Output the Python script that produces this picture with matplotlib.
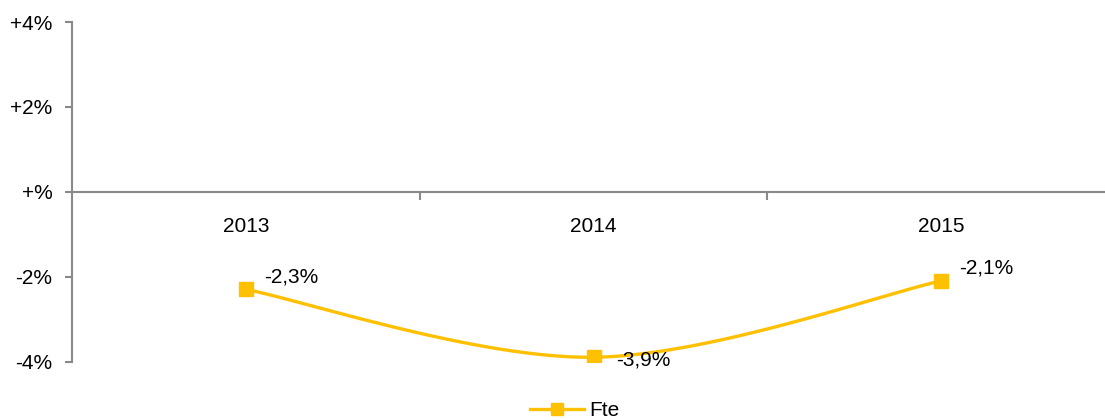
import matplotlib
matplotlib.use("Agg")
import matplotlib.pyplot as plt
import numpy as np

plt.rcParams['font.family'] = ['Liberation Sans', 'DejaVu Sans']

years = ['2013', '2014', '2015']
fte = [-2.3, -3.9, -2.1]
point_labels = ['-2,3%', '-3,9%', '-2,1%']
y_ticks = [4, 2, 0, -2, -4]
y_ticklabels = ['+4%', '+2%', '+%', '-2%', '-4%']

gold = '#FFC000'
grey = '#898989'
fs = 15

fig = plt.figure(figsize=(11.05, 4.2), dpi=100)
ax = fig.add_axes([72 / 1105, 1 - 361.5 / 420, 1043 / 1105, 339.5 / 420])

# smoothed line (catmull-rom through the points, like excel's smoothing)
x = np.arange(len(fte), dtype=float)
y = np.array(fte, dtype=float)
px = np.concatenate([[x[0]], x, [x[-1]]])
py = np.concatenate([[y[0]], y, [y[-1]]])
xs, ys = [], []
t = np.linspace(0, 1, 60)
for i in range(1, len(px) - 2):
    for p, out in ((px, xs), (py, ys)):
        p0, p1, p2, p3 = p[i - 1], p[i], p[i + 1], p[i + 2]
        m1 = (p2 - p0) / 2
        m2 = (p3 - p1) / 2
        h00 = 2 * t**3 - 3 * t**2 + 1
        h10 = t**3 - 2 * t**2 + t
        h01 = -2 * t**3 + 3 * t**2
        h11 = t**3 - t**2
        out.extend(h00 * p1 + h10 * m1 + h01 * p2 + h11 * m2)

ax.plot(xs, ys, color=gold, lw=2.4, solid_capstyle='round', zorder=3)
ax.plot(x, y, ls='none', marker='s', ms=9.5, color=gold, zorder=4)

offsets = [(13, 9), (16, -2), (13, 9)]
for xi, yi, lab, off in zip(x, y, point_labels, offsets):
    ax.annotate(lab, (xi, yi), xytext=off, textcoords='offset points',
                ha='left', va='center', fontsize=fs, color='#000000')

ax.set_xlim(-0.5, 2.5)
ax.set_ylim(-4, 4)

ax.spines['top'].set_visible(False)
ax.spines['right'].set_visible(False)
ax.spines['left'].set_color(grey)
ax.spines['left'].set_linewidth(1.5)
ax.spines['bottom'].set_color(grey)
ax.spines['bottom'].set_linewidth(1.5)
ax.spines['bottom'].set_position(('data', 0))

ax.set_yticks(y_ticks)
ax.set_yticklabels(y_ticklabels, fontsize=fs)
ax.tick_params(axis='y', length=5, width=1.5, color=grey, pad=9)

ax.set_xticks(x)
ax.set_xticklabels(years, fontsize=fs)
ax.set_xticks([0.5, 1.5, 2.5], minor=True)
ax.tick_params(axis='x', which='major', length=0, pad=18)
ax.tick_params(axis='x', which='minor', length=6, width=1.5, color=grey)

handle = plt.Line2D([], [], color=gold, lw=2.4, marker='s', ms=8.5)
fig.legend([handle], ['Fte'], loc='center', bbox_to_anchor=(575 / 1105, 1 - 411 / 420),
           frameon=False, fontsize=fs, handlelength=2.6, handletextpad=0.25)

fig.savefig('out.png', dpi=100)
